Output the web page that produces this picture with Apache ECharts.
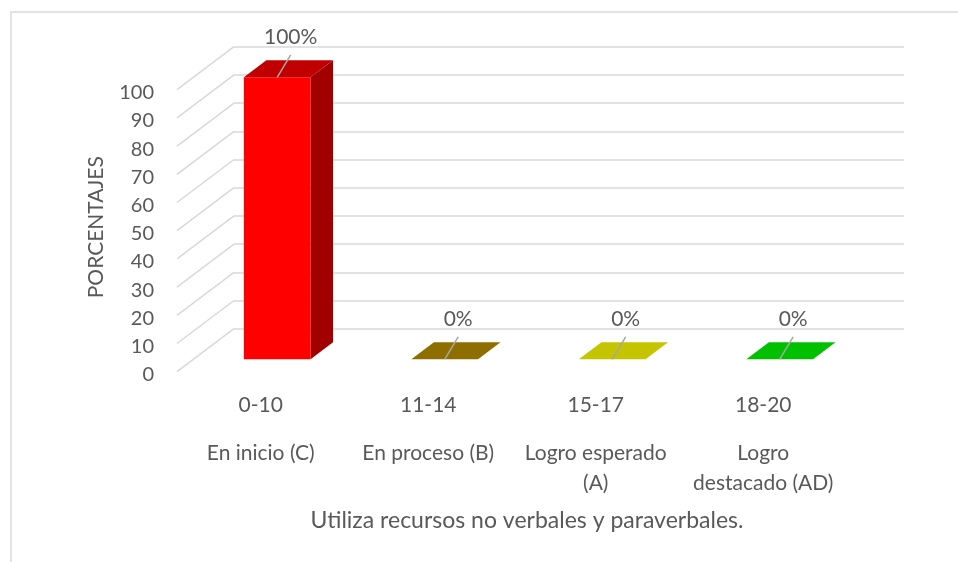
<!DOCTYPE html>
<html><head><meta charset="utf-8">
<script src="https://cdn.jsdelivr.net/npm/echarts@6/dist/echarts.min.js"></script>
<style>html,body{margin:0;padding:0;background:#fff}#c{width:958px;height:562px}</style>
</head><body><div id="c"></div>
<script>
const rangeLabels = ['0-10', '11-14', '15-17', '18-20'];
const levelLabels = ['En inicio (C)', 'En proceso (B)', 'Logro esperado\n(A)', 'Logro\ndestacado (AD)'];
const percentValues = [100, 0, 0, 0];
const yTicks = [0, 10, 20, 30, 40, 50, 60, 70, 80, 90, 100];
const frontColors = ['#FF0000', '#8F6E00', '#C4C400', '#00C000'];
const topColors = ['#C00000', '#8F6E00', '#C4C400', '#00C000'];
const sideColors = ['#A00000', '#6E5400', '#9A9A00', '#009600'];
const axisTitleX = 'Utiliza recursos no verbales y paraverbales.';
const axisTitleY = 'PORCENTAJES';

const FONT = 'Lato, "Open Sans", sans-serif';
const TXT = '#595959';
const GRIDC = '#D9D9D9';
const DX = -57, DY = 43;           // depth of the floor (back wall -> front)
const FRONT = 30.6 / 43, BACK = 13.6 / 43;  // bar depth position
const BAR_RATIO = 0.398;

const chart = echarts.init(document.getElementById('c'), null, {renderer: 'canvas'});

function renderDiag(params, api) {
  const v = api.value(1);
  const y = api.coord([0, v])[1];
  const x0 = params.coordSys.x;
  return {type: 'line', shape: {x1: x0, y1: y, x2: x0 + DX, y2: y + DY},
          style: {stroke: GRIDC, lineWidth: 1.5}};
}

function renderBar(params, api) {
  const i = api.value(0), v = api.value(1);
  const base = api.coord([i, 0]), top = api.coord([i, v]);
  const bw = api.size([1, 0])[0] * BAR_RATIO;
  const fx = DX * FRONT, fy = DY * FRONT, bx = DX * BACK, by = DY * BACK;
  const L = base[0] - bw / 2, R = base[0] + bw / 2;
  const t = top[1], b = base[1];
  const children = [];
  if (v > 0) {
    children.push({type: 'polygon', shape: {points: [[R + fx, t + fy], [R + bx, t + by], [R + bx, b + by], [R + fx, b + fy]]},
      style: {fill: sideColors[i]}});
    children.push({type: 'rect', shape: {x: L + fx, y: t + fy, width: bw, height: b - t},
      style: {fill: frontColors[i]}});
  }
  children.push({type: 'polygon', shape: {points: [[L + fx, t + fy], [R + fx, t + fy], [R + bx, t + by], [L + bx, t + by]]},
    style: {fill: topColors[i]}});
  const ax = base[0] + fx, ay = t + fy;
  children.push({type: 'line', shape: {x1: ax, y1: ay, x2: ax + 13.5, y2: ay - 22.5},
    style: {stroke: '#A6A6A6', lineWidth: 1.5}});
  children.push({type: 'text', style: {x: ax + 13.5, y: ay - 40, text: v + '%', align: 'center', verticalAlign: 'middle',
    fill: TXT, font: '21px ' + FONT}});
  return {type: 'group', children: children};
}

const option = {
  backgroundColor: '#fff',
  animation: false,
  grid: [
    {left: 234, top: 46.7, width: 670, height: 282, outerBoundsMode: 'none', containLabel: false},
    {left: 177, top: 92.7, width: 670, height: 282, outerBoundsMode: 'none', containLabel: false}
  ],
  xAxis: [
    {type: 'category', gridIndex: 0, data: rangeLabels, axisLine: {show: false}, axisTick: {show: false}, axisLabel: {show: false}},
    {type: 'category', gridIndex: 1, position: 'bottom', data: rangeLabels, axisLine: {show: false}, axisTick: {show: false},
      axisLabel: {margin: 20, color: TXT, fontFamily: FONT, fontSize: 21, lineHeight: 22}},
    {type: 'category', gridIndex: 1, position: 'bottom', offset: 0, data: levelLabels, axisLine: {show: false}, axisTick: {show: false},
      axisLabel: {margin: 64, color: TXT, fontFamily: FONT, fontSize: 21, lineHeight: 30, interval: 0}}
  ],
  yAxis: [
    {type: 'value', gridIndex: 0, min: 0, max: 100, interval: 10, axisLine: {show: false}, axisTick: {show: false},
      axisLabel: {show: false}, splitLine: {show: true, lineStyle: {color: GRIDC, width: 1.5}}},
    {type: 'value', gridIndex: 1, min: 0, max: 100, interval: 10, axisLine: {show: false}, axisTick: {show: false},
      splitLine: {show: false}, axisLabel: {margin: 23, color: TXT, fontFamily: FONT, fontSize: 20},
      name: axisTitleY, nameLocation: 'middle', nameGap: 70,
      nameTextStyle: {color: TXT, fontFamily: FONT, fontSize: 21, padding: [0, 0, 0, 13]}}
  ],
  graphic: [
    {type: 'rect', shape: {x: 11, y: 12, width: 980, height: 600}, style: {fill: 'none', stroke: GRIDC, lineWidth: 1.5}, silent: true, z: -10},
    {type: 'text', x: 527, y: 521, style: {text: axisTitleX, align: 'center', verticalAlign: 'middle', fill: TXT, font: '23px ' + FONT}}
  ],
  series: [
    {type: 'custom', xAxisIndex: 0, yAxisIndex: 0, data: yTicks.map(v => [0, v]), renderItem: renderDiag, clip: false, silent: true, z: 1},
    {type: 'custom', xAxisIndex: 0, yAxisIndex: 0, data: percentValues.map((v, i) => [i, v]), renderItem: renderBar, clip: false, z: 5}
  ]
};
chart.setOption(option);
</script>
</body></html>
